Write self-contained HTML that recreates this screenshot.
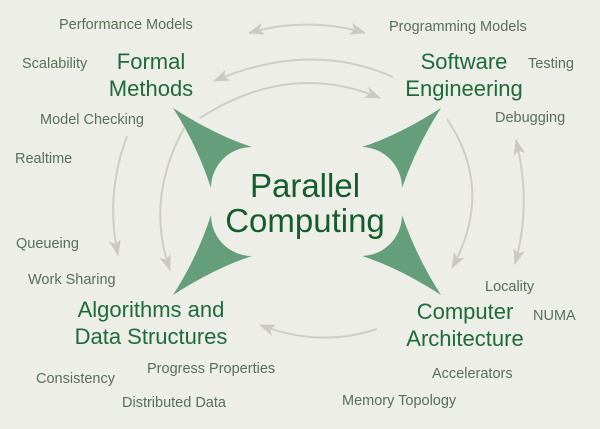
<!DOCTYPE html>
<html><head><meta charset="utf-8"><style>
html,body{margin:0;padding:0;background:#eeeee9;}
svg{display:block;}
.s{font-family:"Liberation Sans",sans-serif;font-size:14.5px;fill:#56705a;}
.l{font-family:"Liberation Sans",sans-serif;font-size:22px;fill:#1e6b3a;}
.c{font-family:"Liberation Sans",sans-serif;font-size:33px;fill:#155c2c;}
</style></head><body>
<svg width="600" height="429" viewBox="0 0 600 429" xmlns="http://www.w3.org/2000/svg">
<rect width="600" height="429" fill="#eeeee9"/>
<defs>
<marker id="b" viewBox="0 0 16 12" refX="15" refY="6" markerWidth="16" markerHeight="12" orient="auto-start-reverse" markerUnits="userSpaceOnUse">
<path d="M0,0 L16,6 L0,12 L4,6 z" fill="#cbc8c6"/>
</marker>
</defs>
<g fill="none" stroke="#cfcccb" stroke-width="2">
<path d="M249,33 Q307,16 365,33" marker-start="url(#b)" marker-end="url(#b)"/>
<path d="M393,77 Q310,40 214,81" marker-end="url(#b)"/>
<path d="M200,118 Q290,60 380,98" marker-end="url(#b)"/>
<path d="M447,119 Q495,190 452,268" marker-end="url(#b)"/>
<path d="M516,140 Q532,205 515,264" marker-start="url(#b)" marker-end="url(#b)"/>
<path d="M377,329 Q320,348 260,325" marker-end="url(#b)"/>
<path d="M127,136 Q105,195 118,255" marker-end="url(#b)"/>
<path d="M184,128 Q145,200 170,270" marker-end="url(#b)"/>
</g>
<g fill="#649e7b">
<path d="M173,108 Q215,135 252,147 A41,41 0 0 0 211,188 Q197,145 173,108 z"/>
<path d="M441,108 Q399,135 362,147 A41,41 0 0 1 402,188 Q417,145 441,108 z"/>
<path d="M173,295 Q215,268 252,256 A41,41 0 0 1 211,215 Q197,258 173,295 z"/>
<path d="M441,295 Q399,268 362,256 A41,41 0 0 0 402,215 Q417,258 441,295 z"/>
</g>
<text class="c" x="305" y="197" text-anchor="middle">Parallel</text>
<text class="c" x="305" y="232" text-anchor="middle">Computing</text>
<text class="l" x="151" y="69" text-anchor="middle">Formal</text>
<text class="l" x="151" y="96" text-anchor="middle">Methods</text>
<text class="l" x="464" y="69" text-anchor="middle">Software</text>
<text class="l" x="464" y="96" text-anchor="middle">Engineering</text>
<text class="l" x="151" y="317" text-anchor="middle">Algorithms and</text>
<text class="l" x="151" y="344" text-anchor="middle">Data Structures</text>
<text class="l" x="465" y="319" text-anchor="middle">Computer</text>
<text class="l" x="465" y="346" text-anchor="middle">Architecture</text>
<text class="s" x="59" y="29">Performance Models</text>
<text class="s" x="389" y="31">Programming Models</text>
<text class="s" x="22" y="68">Scalability</text>
<text class="s" x="528" y="68">Testing</text>
<text class="s" x="40" y="124">Model Checking</text>
<text class="s" x="495" y="122">Debugging</text>
<text class="s" x="15" y="163">Realtime</text>
<text class="s" x="16" y="248">Queueing</text>
<text class="s" x="28" y="284">Work Sharing</text>
<text class="s" x="485" y="291">Locality</text>
<text class="s" x="533" y="320">NUMA</text>
<text class="s" x="147" y="373">Progress Properties</text>
<text class="s" x="36" y="383">Consistency</text>
<text class="s" x="432" y="378">Accelerators</text>
<text class="s" x="122" y="407">Distributed Data</text>
<text class="s" x="342" y="405">Memory Topology</text>
</svg>
</body></html>
